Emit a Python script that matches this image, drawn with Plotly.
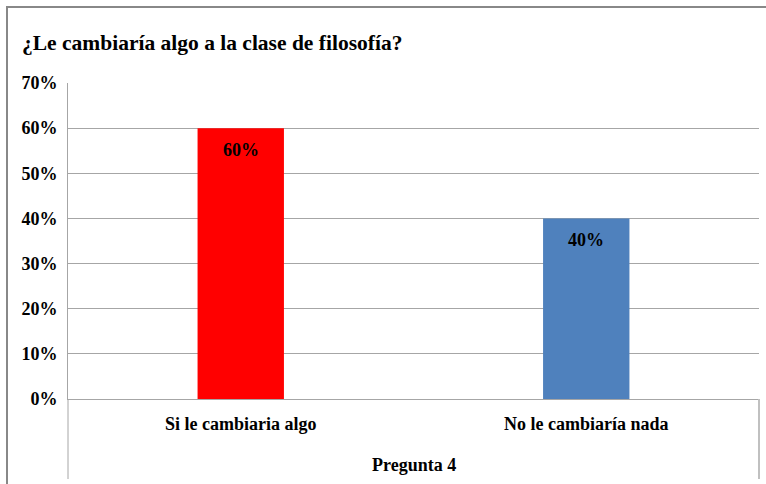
import plotly.graph_objects as go

title_text = "¿Le cambiaría algo a la clase de filosofía?"
group_label = "Pregunta 4"
categories = ["Si le cambiaria algo", "No le cambiaría nada"]
values = [0.60, 0.40]
bar_colors = ["#FF0000", "#4F81BD"]
tick_vals = [0, 0.1, 0.2, 0.3, 0.4, 0.5, 0.6, 0.7]
tick_text = ["0%", "10%", "20%", "30%", "40%", "50%", "60%", "70%"]

W, H = 766, 484
ml, mr, mt, mb = 68, 7, 83, 85
pw, ph = W - ml - mr, H - mt - mb

FONT = "Liberation Serif"
GRID = "#A6A6A6"

fig = go.Figure(go.Bar(
    x=categories,
    y=values,
    marker=dict(color=bar_colors, line=dict(width=0)),
    hoverinfo="skip",
))

def px_x(px):
    return (px - ml) / pw

def px_y(py):
    return (H - mb - py) / ph

annotations = [
    dict(x=c, y=v, xref="x", yref="y", text=f"<b>{v:.0%}</b>", showarrow=False,
         yanchor="middle", yshift=-22,
         font=dict(family=FONT, size=18, color="black"))
    for c, v in zip(categories, values)
]
annotations.append(dict(x=0.5, y=px_y(465), xref="paper", yref="paper", text=f"<b>{group_label}</b>",
                        showarrow=False, xanchor="center", yanchor="middle",
                        font=dict(family=FONT, size=18, color="black")))

shapes = [
    dict(type="line", xref="paper", yref="paper", x0=0, x1=0, y0=0, y1=px_y(479),
         line=dict(color=GRID, width=1)),
    dict(type="line", xref="paper", yref="paper", x0=1, x1=1, y0=0, y1=px_y(479),
         line=dict(color="#C0C0C0", width=2)),
    dict(type="rect", xref="paper", yref="paper",
         x0=px_x(7), x1=px_x(780), y0=px_y(500), y1=px_y(7),
         line=dict(color="#888888", width=2), fillcolor="rgba(0,0,0,0)", layer="below"),
]

fig.update_layout(
    width=W, height=H,
    margin=dict(l=ml, r=mr, t=mt, b=mb, autoexpand=False),
    paper_bgcolor="white", plot_bgcolor="white",
    showlegend=False,
    bargap=0.75,
    title=dict(text=f"<b>{title_text}</b>", x=22 / W, xanchor="left", y=1 - 42 / H, yanchor="middle",
               font=dict(family=FONT, size=21.5, color="black")),
    font=dict(family=FONT, color="black"),
    yaxis=dict(range=[0, 0.7], tickvals=tick_vals, ticktext=[f"<b>{t}</b>" for t in tick_text],
               showgrid=True, gridcolor=GRID, gridwidth=1,
               showline=True, linecolor=GRID, linewidth=1,
               ticks="", ticklabelstandoff=6, automargin=False,
               tickfont=dict(family=FONT, size=18, color="black"),
               zeroline=False, fixedrange=True),
    xaxis=dict(showline=True, linecolor=GRID, linewidth=1,
               ticks="", automargin=False, ticklabelstandoff=8,
               tickvals=categories, ticktext=[f"<b>{c}</b>" for c in categories],
               tickfont=dict(family=FONT, size=18, color="black"),
               fixedrange=True),
    annotations=annotations,
    shapes=shapes,
)

fig.write_html("out.html", config={"displayModeBar": False},
               post_script="document.body.style.margin='0';document.body.style.overflow='hidden';")
